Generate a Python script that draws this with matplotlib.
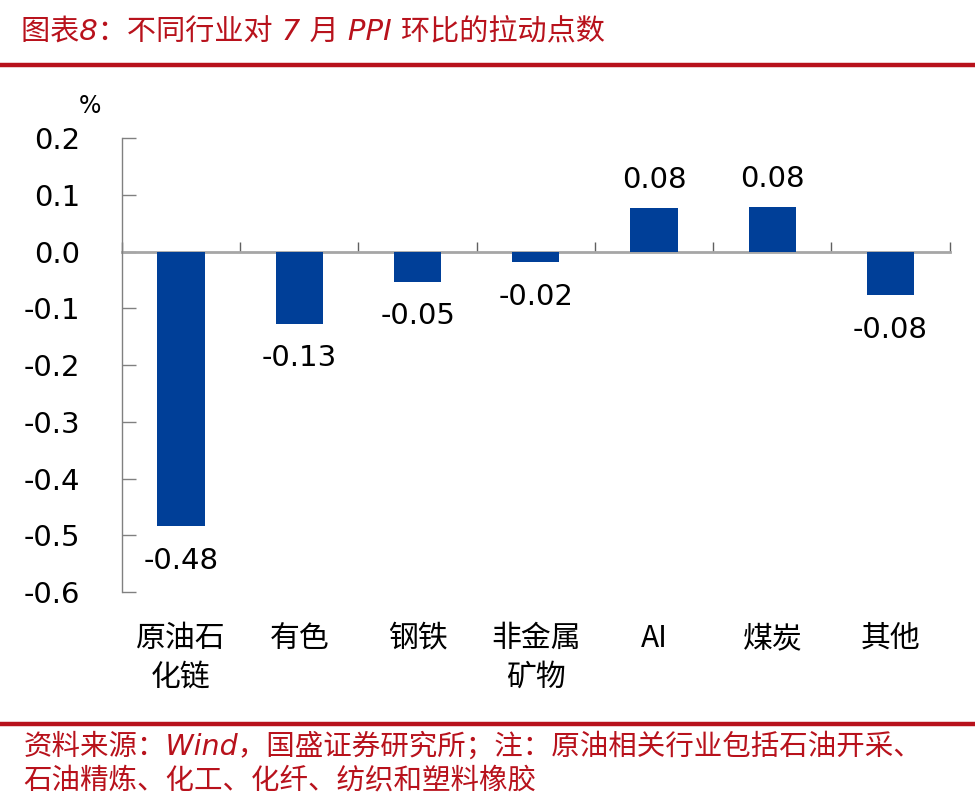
import matplotlib
matplotlib.use("Agg")
import matplotlib.pyplot as plt
from matplotlib.lines import Line2D
from matplotlib.transforms import blended_transform_factory
import numpy as np

categories = ["原油石\n化链", "有色", "钢铁", "非金属\n矿物", "AI", "煤炭", "其他"]
values = [-0.484, -0.127, -0.053, -0.019, 0.076, 0.078, -0.077]
yticks = [0.2, 0.1, 0.0, -0.1, -0.2, -0.3, -0.4, -0.5, -0.6]

title = "图表8：不同行业对 7 月 PPI 环比的拉动点数"
note1 = "资料来源：Wind，国盛证券研究所；注：原油相关行业包括石油开采、"
note2 = "石油精炼、化工、化纤、纺织和塑料橡胶"

plt.rcParams['font.family'] = ['DejaVu Sans', 'Noto Sans CJK SC']

RED = "#B8121C"
BLUE = "#003F98"

fig = plt.figure(figsize=(9.75, 8.01), dpi=100)
ax = fig.add_axes([0.1251, 0.2609, 0.974 - 0.1251, 0.8277 - 0.2609])

x = np.arange(len(categories))
ax.bar(x, values, width=0.4, color=BLUE, zorder=3)

ax.set_xlim(-0.5, len(categories) - 0.5)
ax.set_ylim(-0.6, 0.2)
ax.set_yticks(yticks)
ax.set_yticklabels([f"{t:.1f}" for t in yticks], fontsize=21)
ax.tick_params(axis='y', direction='in', length=10, width=1, color='#808080', pad=30)

for s in ['top', 'right']:
    ax.spines[s].set_visible(False)
ax.spines['left'].set_color('#808080')
ax.spines['left'].set_linewidth(1)
ax.spines['bottom'].set_position(('data', 0))
ax.spines['bottom'].set_color('#A6A6A6')
ax.spines['bottom'].set_linewidth(2)
ax.spines['bottom'].set_zorder(2)

bounds = np.arange(len(categories) + 1) - 0.5
ax.set_xticks(bounds)
ax.set_xticklabels([""] * len(bounds))
ax.tick_params(axis='x', direction='in', length=7, width=1, color='#606060')

trans = blended_transform_factory(ax.transData, ax.transAxes)
for xi, lab in zip(x, categories):
    ax.text(xi, -0.068, lab, transform=trans, ha='center', va='top',
            fontsize=21.5, family=['Noto Sans CJK SC'], linespacing=1.32,
            multialignment='center')

for xi, v in zip(x, values):
    if v >= 0:
        ax.annotate(f"{v:.2f}", (xi, v), xytext=(0, 10), textcoords='offset points',
                    ha='center', va='bottom', fontsize=21)
    else:
        ax.annotate(f"{v:.2f}", (xi, v), xytext=(0, -15), textcoords='offset points',
                    ha='center', va='top', fontsize=21)

fig.text(0.092, 0.868, "%", fontsize=17, ha='center', va='center')

fig.text(0.022, 0.959, title, fontsize=21, color=RED, ha='left', va='center',
         style='italic')
fig.add_artist(Line2D([0, 1], [1 - 64.5 / 801] * 2, color=RED, lw=3.2,
                      transform=fig.transFigure))
fig.add_artist(Line2D([0, 1], [1 - 724 / 801] * 2, color=RED, lw=3.2,
                      transform=fig.transFigure))
fig.text(0.024, 1 - 746 / 801, note1, fontsize=20.5, color=RED, ha='left', va='center',
         style='italic')
fig.text(0.024, 1 - 780 / 801, note2, fontsize=20.5, color=RED, ha='left', va='center',
         style='italic')

fig.savefig("out.png", dpi=100)
